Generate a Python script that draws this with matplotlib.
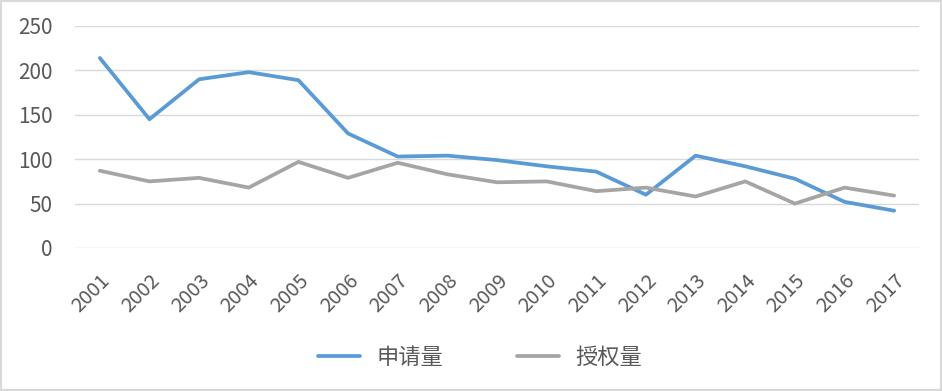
import matplotlib
matplotlib.use("Agg")
import matplotlib.pyplot as plt
from matplotlib.patches import Rectangle

plt.rcParams['font.family'] = ['Noto Sans CJK SC', 'DejaVu Sans']

years = [str(y) for y in range(2001, 2018)]
applications = [214, 145, 190, 198, 189, 129, 103, 104, 99, 92, 86, 60, 104, 92, 78, 52, 42]
grants = [87, 75, 79, 68, 97, 79, 96, 83, 74, 75, 64, 68, 58, 75, 50, 68, 59]
series_names = ['申请量', '授权量']
yticks = [0, 50, 100, 150, 200, 250]

fig = plt.figure(figsize=(9.42, 3.91), dpi=100)
fig.patches.append(Rectangle((0, 0), 1, 1, transform=fig.transFigure,
                             fill=False, edgecolor='#d9d9d9', linewidth=3))
ax = fig.add_axes([75/942, 1-248/391, (919-75)/942, (248-26)/391])

x = list(range(len(years)))
ax.plot(x, applications, color='#5B9BD5', lw=2.7, label=series_names[0], solid_capstyle='round')
ax.plot(x, grants, color='#A5A5A5', lw=2.7, label=series_names[1], solid_capstyle='round')

ax.set_xlim(-0.5, len(years) - 0.5)
ax.set_ylim(0, 250)
ax.set_yticks(yticks)
ax.set_yticklabels([str(v) for v in yticks])
ax.set_xticks(x)
ax.set_xticklabels(years, rotation=45, ha='right', va='top', rotation_mode='anchor')
ax.grid(axis='y', color='#d9d9d9', lw=1)
ax.set_axisbelow(True)
for s in ax.spines.values():
    s.set_visible(False)
ax.tick_params(axis='y', length=0, pad=16, labelsize=15, labelcolor='#595959')
ax.tick_params(axis='x', length=0, pad=16, labelsize=14.5, labelcolor='#595959')

fig.legend(loc='center', bbox_to_anchor=(480/942, 1-357/391), ncol=2, frameon=False,
           fontsize=16, labelcolor='#595959', handlelength=1.9, columnspacing=3.3,
           handletextpad=0.75)

fig.savefig('out.png', dpi=100)
